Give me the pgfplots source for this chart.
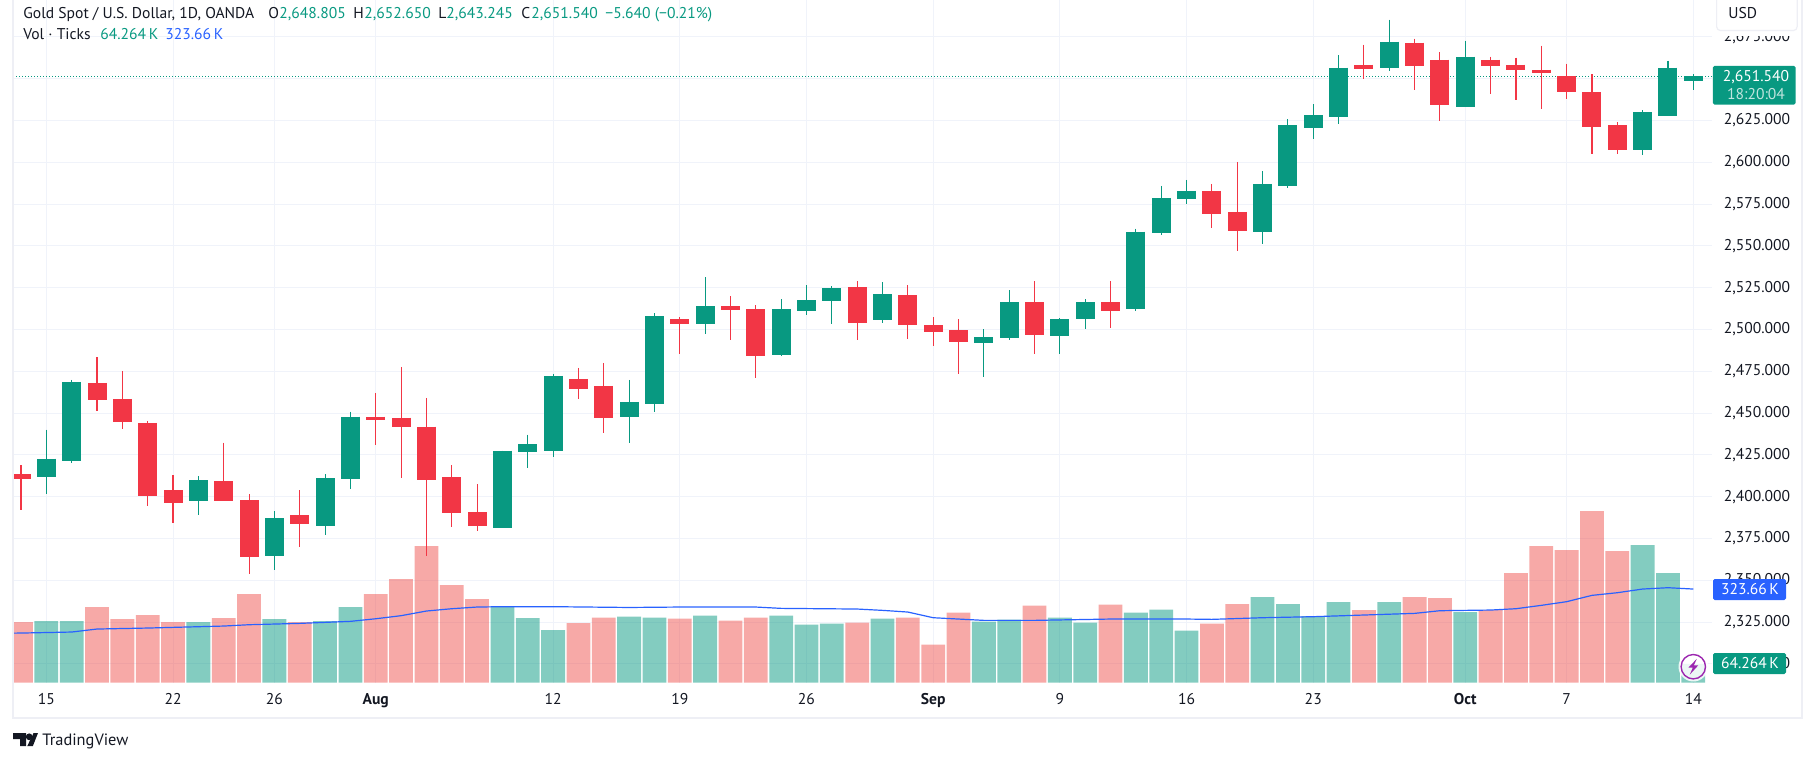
\documentclass[border=0pt]{standalone}
\usepackage{fontspec}
\setmainfont{PT Sans}
\usepackage{pgfplots}
\usepackage{pgfplotstable}
\pgfplotsset{compat=1.18}

\definecolor{upc}{HTML}{089981}
\definecolor{downc}{HTML}{F23645}
\definecolor{volred}{HTML}{EF5350}
\definecolor{gridc}{HTML}{F0F3FA}
\definecolor{bordc}{HTML}{EEEFF5}
\definecolor{inkc}{HTML}{131722}
\definecolor{mac}{HTML}{2962FF}
\definecolor{boltc}{HTML}{9C27B0}

% i open high low close volume(K)
\pgfplotstableread{
i o h l c v
1 2411.5 2440.1 2401.4 2422.8 213.1
2 2421.6 2469.8 2420.4 2468.7 213.1
7 2397.2 2412.1 2388.9 2409.7 209.7
10 2364.5 2391.3 2356.2 2387.1 220
12 2382.3 2413.3 2377 2410.9 213.1
13 2410.3 2450.8 2404.4 2447.8 261.5
19 2381.2 2427.6 2381.2 2427.6 261.5
20 2427 2437.1 2416.9 2431.2 223.5
21 2427.6 2473.4 2424 2472.2 182
24 2447.8 2469.8 2432.3 2456.7 228.1
25 2455.6 2509.7 2450.8 2507.9 224.6
27 2503.2 2531.1 2497.2 2513.9 231.6
30 2484.7 2518.1 2484.1 2512.1 231.6
31 2510.9 2526.4 2508.5 2517.5 200.4
32 2516.9 2525.8 2503.2 2524.6 203.9
34 2505.6 2528.2 2503.8 2521 221.2
38 2491.9 2500.2 2471.6 2495.4 210.8
39 2494.8 2523.4 2493.7 2516.3 217.7
41 2496 2506.7 2485.3 2506.1 224.6
42 2506.1 2518.1 2500.2 2516.3 207.4
44 2512.1 2560.3 2510.9 2558.5 241.9
45 2557.9 2585.9 2556.7 2578.8 252.3
46 2578.2 2589.5 2575.2 2582.9 179.7
49 2558.5 2594.8 2551.4 2587.1 296.1
50 2585.9 2625.8 2584.7 2622.2 271.9
51 2620.4 2634.7 2613.9 2628.2 230.4
52 2627 2663.9 2622.8 2656.7 278.8
54 2656.7 2685.3 2654.4 2672.2 278.8
57 2632.9 2672.8 2632.9 2663.3 244.2
64 2607.3 2631.1 2604.4 2630 475.8
65 2627.6 2660.9 2627.6 2656.7 379
66 2648.805 2652.65 2643.245 2651.54 64.264
}\upbars

\pgfplotstableread{
i o h l c v
0 2413.3 2418.7 2391.9 2410.3 209.7
3 2468.1 2483.5 2451.4 2457.9 261.5
4 2458.5 2475.2 2440.7 2444.8 220
5 2444.2 2445.4 2394.3 2400.2 233.9
6 2403.8 2412.7 2384.1 2396 209.7
8 2409.1 2432.3 2397.2 2397.2 223.5
9 2397.8 2401.4 2353.8 2363.9 306.4
11 2388.9 2403.8 2369.8 2383.5 209.7
14 2447.8 2462.1 2430.6 2446 306.4
15 2447.2 2477.6 2410.9 2441.9 358.3
16 2441.9 2459.1 2364.5 2409.7 472.3
17 2411.5 2418.7 2381.8 2390.1 337.5
18 2390.7 2407.3 2379.4 2382.3 289.2
22 2470.4 2477 2458.5 2464.5 206.2
23 2466.3 2480 2438.3 2447.2 224.6
26 2506.1 2507.3 2485.3 2503.2 221.2
28 2513.9 2519.8 2493.7 2511.5 214.3
29 2512.1 2514.5 2471 2484.1 224.6
33 2525.2 2528.8 2493.7 2503.8 207.4
35 2520.4 2526.4 2494.2 2502.6 224.6
36 2502.6 2507.3 2490.1 2498.4 131.3
37 2499.6 2506.1 2473.4 2492.5 241.9
40 2516.3 2528.8 2485.3 2496.6 266.1
43 2516.3 2528.8 2500.8 2510.9 269.6
47 2582.9 2587.1 2560.9 2569.2 203.9
48 2570.4 2600.2 2547.2 2559.1 271.9
53 2658.5 2670.4 2649.6 2656.1 251.1
55 2671.6 2674 2643 2657.9 296.1
56 2661.5 2665.7 2624.6 2634.1 292.6
58 2661.5 2663.3 2640.7 2657.9 251.1
59 2658.5 2662.7 2637.1 2655 379
60 2655.5 2669.8 2631.7 2653.2 472.3
61 2651.4 2659.1 2637.7 2641.9 458.5
62 2641.9 2652.6 2605 2621 593.3
63 2622.2 2624 2605 2607.3 455
}\downbars

\pgfplotsset{
  pane/.style={
    at={(6.5pt,39.65pt)}, anchor=south west,
    scale only axis, width=849.65pt, height=341.35pt,
    xmin=-0.316, xmax=66.75,
    clip=true,
  },
  overlay pane/.style={pane, axis lines=none, xtick=\empty, ytick=\empty},
  wick/.style={draw=none, mark=none, forget plot,
    error bars/.cd, y dir=minus, y explicit, error mark=none,
    error bar style={draw=#1, line width=0.55pt}},
  body/.style={draw=none, mark=none, forget plot,
    error bars/.cd, y dir=minus, y explicit, error mark=none,
    error bar style={draw=#1, line width=9.5pt}},
}

\newcommand{\hd}{\fontsize{7.8}{9}\selectfont}
\newcommand{\ax}{\fontsize{7.8}{9}\selectfont}

\begin{document}
\begin{tikzpicture}
\useasboundingbox (0,0) rectangle (907.5pt,381pt);

% grid and scales
\begin{axis}[pane,
  ymin=2288.7, ymax=2697.1,
  axis line style={draw=none},
  tick style={draw=none},
  grid=both,
  grid style={draw=gridc, line width=0.5pt},
  xtick={1,6,10,14,21,26,31,36,41,46,51,57,61,66},
  xticklabels={15,22,26,\textbf{Aug},12,19,26,\textbf{Sep},9,16,23,\textbf{Oct},7,14},
  ytick={2300,2325,...,2675},
  yticklabel pos=right,
  scaled y ticks=false,
  /pgf/number format/fixed,
  /pgf/number format/fixed zerofill,
  /pgf/number format/precision=3,
  /pgf/number format/1000 sep={,},
  /pgf/number format/assume math mode=true,
  tick label style={font=\ax, text=inkc},
  yticklabel style={anchor=west, xshift=2.2pt},
  xticklabel style={yshift=-2pt},
]
\addplot[draw=none, forget plot] coordinates {(0,2400)};
\end{axis}

% volume pane
\begin{axis}[overlay pane, ymin=0, ymax=2359.4, ybar, bar width=11.9pt]
\addplot[fill=upc, fill opacity=0.5, draw=none, bar shift=0pt] table[x=i, y=v] {\upbars};
\addplot[fill=volred, fill opacity=0.5, draw=none, bar shift=0pt] table[x=i, y=v] {\downbars};
\addplot[sharp plot, mac, line width=0.6pt, mark=none] coordinates {
  (-1,170.5) (0,171.6) (2,175.1) (3,185.5) (5,188.9) (8,195.8) (9,200.4) (11,205) (13,212)
  (14,221) (15,231.6) (16,247.7) (17,255.7) (18,261.5) (19,262.7) (21,262.7)
  (24,260) (26,261.5) (29,261.5) (30,256.9) (33,254.6) (34,250) (35,244.2)
  (36,224.6) (37,220) (38,215.4) (40,215.4) (43,220) (46,220) (47,218.9)
  (49,224.6) (51,228.1) (53,233.9) (55,239.6) (56,248.8) (58,251.1) (59,255.7)
  (60,267.3) (61,280) (62,301.8) (63,311) (64,323.7) (65,328.3) (66,323.66)};
\end{axis}

% candles
\begin{axis}[overlay pane, ymin=2288.7, ymax=2697.1]
\addplot[upc, line width=0.55pt, dash pattern=on 0.6pt off 0.9pt, forget plot] coordinates {(-0.316,2651.54) (66.75,2651.54)};
\addplot[wick=upc] table[x=i, y=h, y error minus expr=\thisrow{h}-\thisrow{l}] {\upbars};
\addplot[wick=downc] table[x=i, y=h, y error minus expr=\thisrow{h}-\thisrow{l}] {\downbars};
\addplot[body=upc] table[x=i, y=c, y error minus expr=\thisrow{c}-\thisrow{o}] {\upbars};
\addplot[body=downc] table[x=i, y=o, y error minus expr=\thisrow{o}-\thisrow{c}] {\downbars};
\end{axis}

% pane borders
\draw[bordc, line width=0.8pt] (6.5pt,381pt) -- (6.5pt,22.15pt) -- (900.85pt,22.15pt) -- (900.85pt,381pt);

% header
\node[anchor=base west, inner sep=0, text=inkc, font=\hd] at (11.5pt,371.5pt) {Gold Spot / U.S. Dollar, 1D, OANDA};
\node[anchor=base west, inner sep=0, text=inkc, font=\hd] at (134pt,371.5pt) {O};
\node[anchor=base west, inner sep=0, text=upc, font=\hd] at (139.5pt,371.5pt) {2,648.805};
\node[anchor=base west, inner sep=0, text=inkc, font=\hd] at (176.5pt,371.5pt) {H};
\node[anchor=base west, inner sep=0, text=upc, font=\hd] at (182pt,371.5pt) {2,652.650};
\node[anchor=base west, inner sep=0, text=inkc, font=\hd] at (219pt,371.5pt) {L};
\node[anchor=base west, inner sep=0, text=upc, font=\hd] at (223pt,371.5pt) {2,643.245};
\node[anchor=base west, inner sep=0, text=inkc, font=\hd] at (260.5pt,371.5pt) {C};
\node[anchor=base west, inner sep=0, text=upc, font=\hd] at (265.5pt,371.5pt) {2,651.540};
\node[anchor=base west, inner sep=0, text=upc, font=\hd] at (302.5pt,371.5pt) {−5.640 (−0.21\%)};
\node[anchor=base west, inner sep=0, text=inkc, font=\hd] at (11.5pt,361.2pt) {Vol · Ticks};
\node[anchor=base west, inner sep=0, text=upc, font=\hd] at (50pt,361.2pt) {64.264\,K};
\node[anchor=base west, inner sep=0, text=mac, font=\hd] at (82.5pt,361.2pt) {323.66\,K};

% USD button, its white margin hides the top of the 2,675 label
\fill[white] (857pt,381pt) rectangle (900pt,363pt);
\draw[bordc, fill=white, line width=0.6pt, rounded corners=2pt] (858.3pt,385pt) rectangle (898.6pt,365.7pt);
\node[anchor=base west, inner sep=0, text=inkc, font=\hd] at (864pt,371.5pt) {USD};

% price and volume tags
\fill[upc, rounded corners=0.8pt] (856.4pt,348pt) rectangle (897.8pt,328.7pt);
\node[anchor=base, inner sep=0, text=white, font=\hd] at (878pt,340pt) {2,651.540};
\node[anchor=base, inner sep=0, text=white!75!upc, font=\hd] at (878pt,331pt) {18:20:04};
\fill[mac, rounded corners=0.8pt] (856.5pt,91.5pt) rectangle (893pt,81pt);
\node[anchor=base, inner sep=0, text=white, font=\hd] at (875pt,83.6pt) {323.66\,K};
\fill[upc, rounded corners=0.8pt] (856.5pt,54.5pt) rectangle (893pt,44pt);
\node[anchor=base, inner sep=0, text=white, font=\hd] at (875pt,46.6pt) {64.264\,K};

% lightning badge
\fill[white, opacity=0.85] (846.65pt,47.65pt) circle (7.4pt);
\draw[boltc, line width=0.7pt] (846.65pt,47.65pt) circle (6.1pt);
\fill[boltc] (848.4pt,51.6pt) -- (844.2pt,47.2pt) -- (846.4pt,47.2pt) -- (844.9pt,43.7pt) -- (849.1pt,48.3pt) -- (846.9pt,48.3pt) -- cycle;

% logo
\fill[inkc] (6.5pt,14.5pt) -- (13pt,14.5pt) -- (13pt,7.9pt) -- (10pt,7.9pt) -- (10pt,11.4pt) -- (6.5pt,11.4pt) -- cycle;
\fill[inkc] (14.6pt,12.6pt) circle (1.7pt);
\fill[inkc] (13.6pt,7.9pt) -- (16.4pt,7.9pt) -- (19pt,14.5pt) -- (16.8pt,14.5pt) -- cycle;
\node[anchor=base west, inner sep=0, text=inkc, font=\fontsize{8.2}{9}\selectfont] at (21pt,8.2pt) {TradingView};
\end{tikzpicture}
\end{document}
